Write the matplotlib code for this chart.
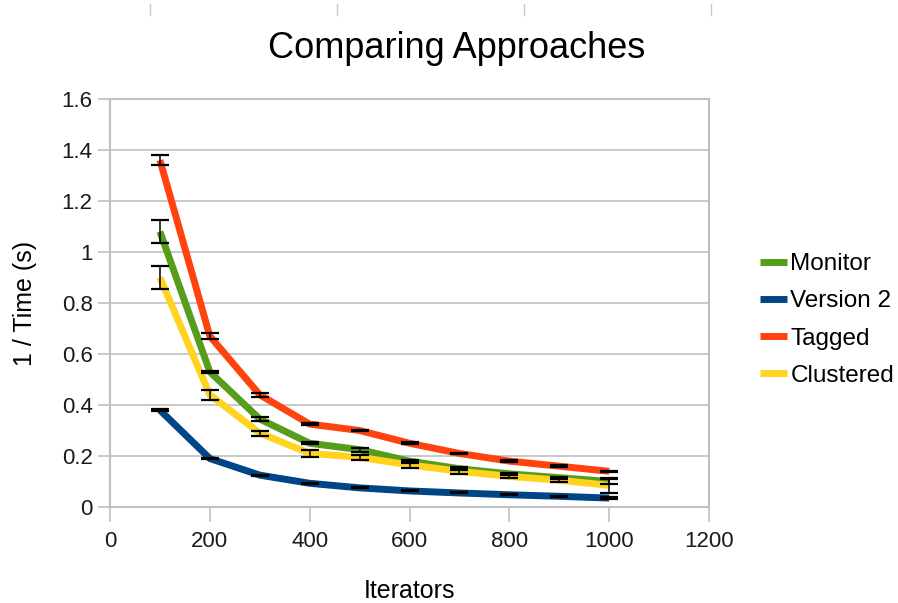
import matplotlib
matplotlib.use("Agg")
import matplotlib.pyplot as plt
from matplotlib.lines import Line2D

plt.rcParams['font.family'] = ['Liberation Sans', 'DejaVu Sans']

iterators = [100, 200, 300, 400, 500, 600, 700, 800, 900, 1000]

monitor = [1.08, 0.53, 0.345, 0.25, 0.225, 0.18, 0.15, 0.13, 0.115, 0.10]
monitor_err = [0.045, 0.004, 0.006, 0.004, 0.008, 0.006, 0.005, 0.004, 0.004, 0.008]

version2 = [0.38, 0.19, 0.125, 0.093, 0.075, 0.063, 0.055, 0.048, 0.042, 0.035]
version2_err = [0.003, 0.003, 0.002, 0.002, 0.002, 0.002, 0.002, 0.002, 0.002, 0.004]

tagged = [1.36, 0.67, 0.44, 0.325, 0.30, 0.25, 0.21, 0.18, 0.16, 0.14]
tagged_err = [0.02, 0.012, 0.007, 0.003, 0.003, 0.003, 0.003, 0.003, 0.003, 0.003]

clustered = [0.90, 0.44, 0.29, 0.21, 0.195, 0.165, 0.14, 0.12, 0.105, 0.085]
clustered_err = [0.045, 0.02, 0.01, 0.012, 0.01, 0.012, 0.01, 0.008, 0.008, 0.03]

series = [
    ("Monitor", monitor, monitor_err, "#579D1C"),
    ("Version 2", version2, version2_err, "#004586"),
    ("Tagged", tagged, tagged_err, "#FF420E"),
    ("Clustered", clustered, clustered_err, "#FFD320"),
]

fig = plt.figure(figsize=(8.98, 6.03), dpi=100)
ax = fig.add_axes([110 / 898, 1 - 507 / 603, 599 / 898, 408 / 603])

for name, vals, err, col in series:
    ax.plot(iterators, vals, color=col, lw=5, label=name, zorder=3,
            solid_capstyle='butt')
for name, vals, err, col in series:
    ax.errorbar(iterators, vals, yerr=err, fmt='none', ecolor='black',
                elinewidth=1.1, capsize=6.5, capthick=1.6, zorder=4)

ax.set_xlim(0, 1200)
ax.set_ylim(0, 1.6)
ax.set_xticks(range(0, 1201, 200))
ax.set_yticks([0, 0.2, 0.4, 0.6, 0.8, 1.0, 1.2, 1.4, 1.6])
ax.set_yticklabels(["0", "0.2", "0.4", "0.6", "0.8", "1", "1.2", "1.4", "1.6"])
ax.grid(axis='y', color='#c0c0c0', lw=1.2)
ax.set_axisbelow(True)
for s in ax.spines.values():
    s.set_color('#c0c0c0')
    s.set_linewidth(1.5)
ax.tick_params(axis='both', colors='#c0c0c0', labelcolor='#1a1a1a',
               labelsize=16, length=9, width=1.2, direction='out')
ax.tick_params(axis='x', pad=6, length=11)

ax.set_xlabel("Iterators", fontsize=18, labelpad=20)
ax.set_ylabel("1 / Time (s)", fontsize=18, labelpad=18)
fig.text(457 / 898, 1 - 48 / 603, "Comparing Approaches", fontsize=26,
         ha='center', va='center')

leg = ax.legend(loc='center left', bbox_to_anchor=(760 / 898, 1 - 320 / 603),
                bbox_transform=fig.transFigure, frameon=False, fontsize=17.5,
                handlelength=1.1, handletextpad=0.15, labelspacing=0.62,
                borderaxespad=0, borderpad=0)

# small marks along the top edge
for x in [150, 337, 524, 711]:
    fig.add_artist(Line2D([x / 898, x / 898], [1 - 4 / 603, 1 - 15 / 603],
                          color='#c8c8c8', lw=1))

fig.savefig("out.png", dpi=100)
